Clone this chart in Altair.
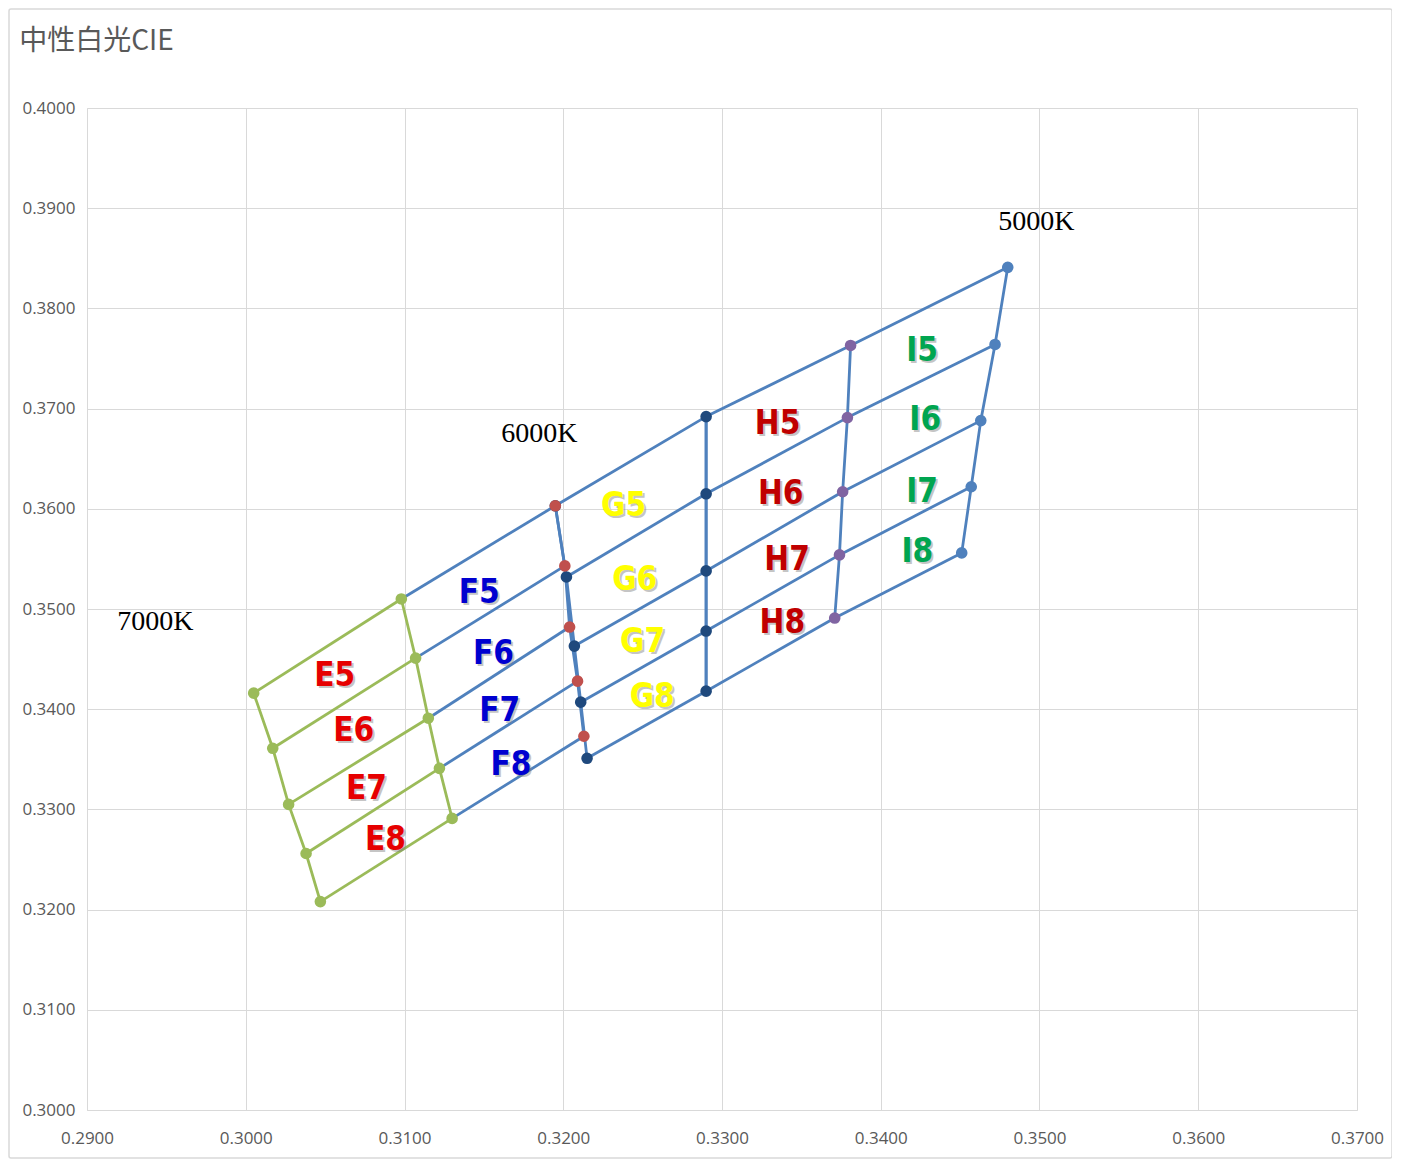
import altair as alt
import pandas as pd

# ---- corner points of the bins (CIE x, y) ----
e_left_x = [0.3005, 0.3017, 0.3027, 0.3038, 0.3047]
e_left_y = [0.3416, 0.3361, 0.3305, 0.3256, 0.3208]
e_right_x = [0.3098, 0.3107, 0.3115, 0.3122, 0.3130]
e_right_y = [0.3510, 0.3451, 0.3391, 0.3341, 0.3291]
f_right_x = [0.3195, 0.3201, 0.3204, 0.3209, 0.3213]
f_right_y = [0.3603, 0.3543, 0.3482, 0.3428, 0.3373]
g_left_x = [0.3195, 0.3202, 0.3207, 0.3211, 0.3215]
g_left_y = [0.3603, 0.3532, 0.3463, 0.3407, 0.3351]
h_left_x = [0.3290, 0.3290, 0.3290, 0.3290, 0.3290]
h_left_y = [0.3692, 0.3615, 0.3538, 0.3478, 0.3418]
i_left_x = [0.3381, 0.3379, 0.3376, 0.3374, 0.3371]
i_left_y = [0.3763, 0.3691, 0.3617, 0.3554, 0.3491]
i_right_x = [0.3480, 0.3472, 0.3463, 0.3457, 0.3451]
i_right_y = [0.3841, 0.3764, 0.3688, 0.3622, 0.3556]

# ---- bin labels ----
bin_names = ["E5", "E6", "E7", "E8", "F5", "F6", "F7", "F8",
             "G5", "G6", "G7", "G8", "H5", "H6", "H7", "H8",
             "I5", "I6", "I7", "I8"]
bin_x = [0.3056, 0.3068, 0.3076, 0.3088, 0.3147, 0.3156, 0.3160, 0.3167,
         0.3238, 0.3245, 0.3250, 0.3256, 0.3335, 0.3337, 0.3341, 0.3338,
         0.3426, 0.3428, 0.3426, 0.3423]
bin_y = [0.3433, 0.3378, 0.3320, 0.3269, 0.3516, 0.3455, 0.3398, 0.3344,
         0.3603, 0.3529, 0.3467, 0.3412, 0.3685, 0.3615, 0.3549, 0.3486,
         0.3757, 0.3689, 0.3617, 0.3557]
bin_colors = ["#E60000"] * 4 + ["#0000D0"] * 4 + ["#FFFF00"] * 4 + ["#C00000"] * 4 + ["#00A550"] * 4

# ---- CCT labels ----
cct_names = ["5000K", "6000K", "7000K"]
cct_x = [0.3498, 0.3185, 0.2943]
cct_y = [0.3886, 0.3675, 0.3487]

x_ticks = [0.29, 0.30, 0.31, 0.32, 0.33, 0.34, 0.35, 0.36, 0.37]
y_ticks = [0.30, 0.31, 0.32, 0.33, 0.34, 0.35, 0.36, 0.37, 0.38, 0.39, 0.40]

GREEN = "#9BBB59"
BLUE = "#4F81BD"
NAVY = "#1F497D"
RED = "#C0504D"
PURPLE = "#8064A2"

# ---- build line paths ----
rows = []


def add_path(pid, col, xs, ys):
    for k, (a, b) in enumerate(zip(xs, ys)):
        rows.append({"path": pid, "col": col, "ord": k, "x": a, "y": b})


add_path("E_left", GREEN, e_left_x, e_left_y)
add_path("E_right", GREEN, e_right_x, e_right_y)
for i in range(5):
    add_path(f"E_row{i}", GREEN, [e_left_x[i], e_right_x[i]], [e_left_y[i], e_right_y[i]])
    add_path(f"F_row{i}", BLUE, [e_right_x[i], f_right_x[i]], [e_right_y[i], f_right_y[i]])
    add_path(f"G_row{i}", BLUE, [g_left_x[i], h_left_x[i]], [g_left_y[i], h_left_y[i]])
    add_path(f"H_row{i}", BLUE, [h_left_x[i], i_left_x[i]], [h_left_y[i], i_left_y[i]])
    add_path(f"I_row{i}", BLUE, [i_left_x[i], i_right_x[i]], [i_left_y[i], i_right_y[i]])
add_path("F_right", BLUE, f_right_x, f_right_y)
add_path("G_left", BLUE, g_left_x, g_left_y)
add_path("G_right", BLUE, h_left_x, h_left_y)
add_path("H_left", BLUE, h_left_x, h_left_y)
add_path("H_right", BLUE, i_left_x, i_left_y)
add_path("I_right", BLUE, i_right_x, i_right_y)
lines_df = pd.DataFrame(rows)

# ---- markers ----
pts = []


def add_pts(col, xs, ys):
    for a, b in zip(xs, ys):
        pts.append({"col": col, "x": a, "y": b})


add_pts(GREEN, e_left_x, e_left_y)
add_pts(GREEN, e_right_x, e_right_y)
add_pts(NAVY, g_left_x, g_left_y)
add_pts(RED, f_right_x, f_right_y)
add_pts(NAVY, h_left_x, h_left_y)
add_pts(PURPLE, i_left_x, i_left_y)
add_pts(BLUE, i_right_x, i_right_y)
pts_df = pd.DataFrame(pts)

labels_df = pd.DataFrame({"name": bin_names, "x": bin_x, "y": bin_y, "c": bin_colors})
cct_df = pd.DataFrame({"name": cct_names, "x": cct_x, "y": cct_y})

xs = alt.Scale(domain=[0.29, 0.37], nice=False, zero=False)
ys = alt.Scale(domain=[0.30, 0.40], nice=False, zero=False)
X = alt.X("x:Q", scale=xs, axis=alt.Axis(values=x_ticks, format=".4f", ticks=False, title=None,
                                        labelPadding=20, grid=True, labelFlush=False))
Y = alt.Y("y:Q", scale=ys, axis=alt.Axis(values=y_ticks, format=".4f", ticks=False, title=None,
                                        labelPadding=12, grid=True, labelFlush=False))

frame = alt.Chart(pd.DataFrame({"a": [0]})).mark_rect(
    fill=None, stroke="#D9D9D9", strokeWidth=1.5, cornerRadius=2
).encode(x=alt.value(-78), x2=alt.value(1305), y=alt.value(-99), y2=alt.value(1050))

lines = alt.Chart(lines_df).mark_line(strokeWidth=2.8).encode(
    x=X, y=Y, detail="path:N", order="ord:Q",
    color=alt.Color("col:N", scale=None),
)

points = alt.Chart(pts_df).mark_circle(size=135, opacity=1).encode(
    x=X, y=Y,
    color=alt.Color("col:N", scale=None),
)

label_font = "Liberation Sans Narrow, DejaVu Sans Condensed, Roboto, sans-serif"
shadow = alt.Chart(labels_df).mark_text(
    font=label_font, fontSize=33, fontWeight="bold", dx=2, dy=2, color="#7F7F7F", opacity=0.45
).encode(x=X, y=Y, text="name:N")
labels = alt.Chart(labels_df).mark_text(
    font=label_font, fontSize=33, fontWeight="bold"
).encode(x=X, y=Y, text="name:N", color=alt.Color("c:N", scale=None))

cct = alt.Chart(cct_df).mark_text(
    font="Liberation Serif", fontSize=28, color="#000000"
).encode(x=X, y=Y, text="name:N")

chart = alt.layer(frame, lines, points, shadow, labels, cct).properties(
    width=1270, height=1002,
    title=alt.TitleParams("中性白光CIE", anchor="start", font="Noto Sans CJK SC", fontSize=28,
                          fontWeight="normal", color="#595959", offset=0, dy=48, dx=11),
    autosize=alt.AutoSizeParams(type="none"),
    padding={"left": 79, "top": 100, "right": 35, "bottom": 50},
).configure_view(stroke=None).configure_axis(
    gridColor="#D9D9D9", gridWidth=1, domainColor="#D9D9D9", domainWidth=1,
    labelFont="Open Sans", labelFontSize=17, labelColor="#595959",
)

chart.save("out.html", embed_options={"renderer": "svg", "actions": False})
